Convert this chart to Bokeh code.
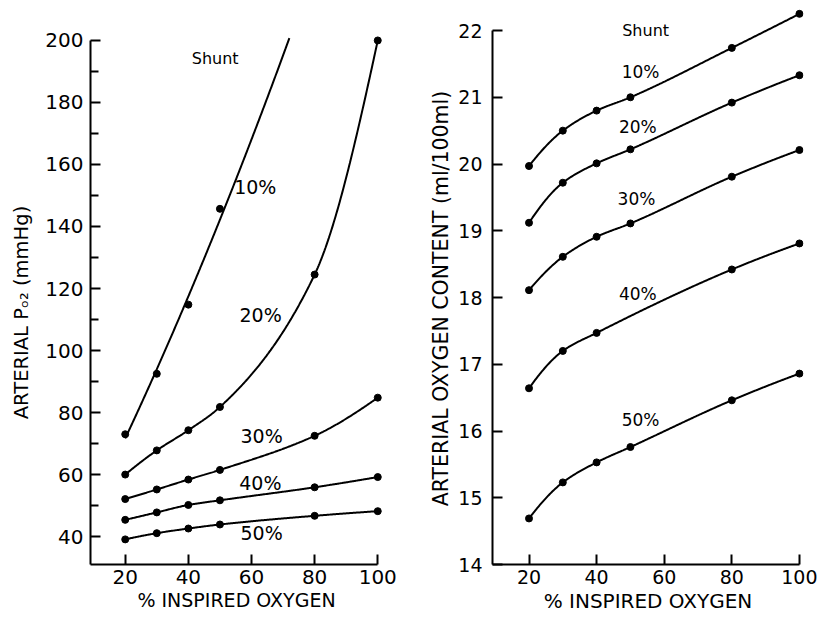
import numpy as np
from bokeh.plotting import figure
from bokeh.layouts import row
from bokeh.models import FixedTicker, Range1d
from bokeh.core.properties import value
from bokeh.embed import file_html
from bokeh.resources import INLINE

# ---------------- data ----------------
inspired_o2 = [20, 30, 40, 50, 80, 100]
shunt_labels = ["10%", "20%", "30%", "40%", "50%"]

# Left panel: arterial PO2 (mmHg)
po2_10_x = [20, 30, 40, 50]
po2_10 = [73, 92.5, 114.8, 145.7]
po2_10_curve_end = (72, 200)          # where the 10% curve leaves the top of the axis
po2_20 = [60, 67.8, 74.3, 81.8, 124.5, 200]
po2_30 = [52.1, 55.2, 58.4, 61.5, 72.5, 84.8]
po2_40 = [45.4, 47.8, 50.2, 51.7, 55.9, 59.2]
po2_50 = [39.1, 41.1, 42.6, 43.9, 46.7, 48.2]

left_yticks = [40, 60, 80, 100, 120, 140, 160, 180, 200]
left_yminor = [50, 70, 90, 110, 130, 150, 170, 190]
xticks = [20, 40, 60, 80, 100]

# Right panel: arterial oxygen content (ml/100ml)
cont_10 = [19.97, 20.5, 20.8, 21.0, 21.74, 22.25]
cont_20 = [19.12, 19.72, 20.01, 20.22, 20.92, 21.33]
cont_30 = [18.11, 18.61, 18.91, 19.11, 19.81, 20.21]
cont_40_x = [20, 30, 40, 80, 100]
cont_40 = [16.64, 17.2, 17.47, 18.42, 18.81]
cont_50 = [14.69, 15.23, 15.53, 15.76, 16.46, 16.86]
right_yticks = [14, 15, 16, 17, 18, 19, 20, 21, 22]

# label anchors (data coordinates)
left_lab_x = [61.2, 62.9, 63.2, 62.8, 63.2]
left_lab_y = [152.8, 111.6, 72.5, 57.3, 41.2]
left_shunt = (48.5, 194.2)
right_lab_x = [53.0, 52.2, 51.8, 52.2, 53.0]
right_lab_y = [21.38, 20.56, 19.48, 18.05, 16.17]
right_shunt = (54.5, 22.0)

FONT = "DejaVu Sans"


def hermite(x, y, m, xs):
    n = len(x)
    h = np.diff(x)
    idx = np.clip(np.searchsorted(x, xs) - 1, 0, n - 2)
    t = (xs - x[idx]) / h[idx]
    h00 = 2 * t**3 - 3 * t**2 + 1
    h10 = t**3 - 2 * t**2 + t
    h01 = -2 * t**3 + 3 * t**2
    h11 = t**3 - t**2
    return h00 * y[idx] + h10 * h[idx] * m[idx] + h01 * y[idx + 1] + h11 * h[idx] * m[idx + 1]


def pchip(x, y, xs):
    x = np.asarray(x, float)
    y = np.asarray(y, float)
    xs = np.asarray(xs, float)
    n = len(x)
    h = np.diff(x)
    d = np.diff(y) / h
    m = np.zeros(n)
    for k in range(1, n - 1):
        if d[k - 1] * d[k] <= 0:
            m[k] = 0.0
        else:
            w1 = 2 * h[k] + h[k - 1]
            w2 = h[k] + 2 * h[k - 1]
            m[k] = (w1 + w2) / (w1 / d[k - 1] + w2 / d[k])

    def end(h0, h1, d0, d1):
        mm = ((2 * h0 + h1) * d0 - h0 * d1) / (h0 + h1)
        if np.sign(mm) != np.sign(d0):
            mm = 0.0
        elif np.sign(d0) != np.sign(d1) and abs(mm) > abs(3 * d0):
            mm = 3 * d0
        return mm

    if n > 2:
        m[0] = end(h[0], h[1], d[0], d[1])
        m[-1] = end(h[-1], h[-2], d[-1], d[-2])
    else:
        m[0] = m[-1] = d[0]
    return hermite(x, y, m, xs)


def style(p, tick_size, title_size, minor, lab_standoff):
    p.xgrid.grid_line_color = None
    p.ygrid.grid_line_color = None
    p.outline_line_color = None
    p.background_fill_color = "white"
    p.border_fill_color = "white"
    for ax in p.axis:
        ax.axis_line_width = 2
        ax.axis_line_color = "black"
        ax.major_tick_line_width = 2
        ax.major_tick_line_color = "black"
        ax.major_tick_in = 10
        ax.major_tick_out = 0
        ax.minor_tick_in = 8 if minor else 0
        ax.minor_tick_out = 0
        ax.minor_tick_line_width = 2
        ax.minor_tick_line_color = "black" if minor else None
        ax.major_label_text_font = FONT
        ax.major_label_text_font_size = tick_size
        ax.major_label_text_color = "black"
        ax.axis_label_text_font = FONT
        ax.axis_label_text_font_size = title_size
        ax.axis_label_text_font_style = "normal"
        ax.axis_label_text_color = "black"
    p.xaxis.major_label_standoff = 5
    p.xaxis.axis_label_standoff = 2
    p.yaxis.major_label_standoff = lab_standoff


def curve(p, xs, ys, extra=None, smooth=False):
    cx = list(xs)
    cy = list(ys)
    if extra is not None:
        cx.append(extra[0])
        cy.append(extra[1])
    xx = np.linspace(cx[0], cx[-1], 300)
    yy = np.polyval(np.polyfit(cx, cy, 2), xx) if smooth else pchip(cx, cy, xx)
    p.line(xx, yy, line_color="black", line_width=2)
    p.scatter(xs, ys, size=7, color="black")


H = 617
TOP = 8
BOTTOM = 53


def title_strip(width, text, size, cx, cy):
    # narrow figure holding a rotated y-axis title; its ranges are in page pixels
    f = figure(width=width, height=H, output_backend="svg", toolbar_location=None,
               x_axis_type=None, y_axis_type=None,
               x_range=Range1d(0, width), y_range=Range1d(H - BOTTOM, TOP),
               min_border_left=0, min_border_right=0, min_border_top=TOP, min_border_bottom=BOTTOM)
    f.outline_line_color = None
    f.background_fill_color = "white"
    f.border_fill_color = "white"
    f.text(x=[cx], y=[cy], text=[text], angle=np.pi / 2, text_align="center",
           text_baseline="middle", text_font=value(FONT), text_font_size=size, text_color="black")
    return f


# ---------------- left figure ----------------
LT = 40
left_title = title_strip(LT, "ARTERIAL P\u2092\u2082 (mmHg)", "19.5px", 21, 312)

left = figure(width=365, height=H, output_backend="svg", toolbar_location=None,
              x_range=Range1d(9, 101.5), y_range=Range1d(31, 210.3),
              min_border_left=50, min_border_right=23, min_border_top=TOP, min_border_bottom=BOTTOM)
left.xaxis.ticker = FixedTicker(ticks=xticks)
left.yaxis.ticker = FixedTicker(ticks=left_yticks, minor_ticks=left_yminor)
left.xaxis.bounds = (9, 100)
left.yaxis.bounds = (31, 200)
left.xaxis.axis_label = "% INSPIRED OXYGEN"
style(left, "20px", "19px", True, 7)

curve(left, po2_10_x, po2_10, po2_10_curve_end, smooth=True)
for ys in [po2_20, po2_30, po2_40, po2_50]:
    curve(left, inspired_o2, ys)

left.text(x=left_lab_x, y=left_lab_y, text=shunt_labels, text_font=value(FONT),
          text_font_size="19px", text_align="center", text_baseline="middle", text_color="black")
left.text(x=[left_shunt[0]], y=[left_shunt[1]], text=["Shunt"], text_font=value(FONT),
          text_font_size="16px", text_align="center", text_baseline="middle", text_color="black")

# ---------------- right figure ----------------
RT = 50
right_title = title_strip(RT, "ARTERIAL OXYGEN CONTENT (ml/100ml)", "20.5px", 35, 298)

right = figure(width=362, height=H, output_backend="svg", toolbar_location=None,
               x_range=Range1d(9.2, 101.2), y_range=Range1d(14, 22.33),
               min_border_left=37, min_border_right=14, min_border_top=TOP, min_border_bottom=BOTTOM)
right.xaxis.ticker = FixedTicker(ticks=xticks)
right.yaxis.ticker = FixedTicker(ticks=right_yticks)
right.xaxis.bounds = (9.2, 100)
right.yaxis.bounds = (14, 22)
right.xaxis.axis_label = "% INSPIRED OXYGEN"
style(right, "19px", "20px", False, 10)

for ys in [cont_10, cont_20, cont_30]:
    curve(right, inspired_o2, ys)
curve(right, cont_40_x, cont_40)
curve(right, inspired_o2, cont_50)

right.text(x=right_lab_x, y=right_lab_y, text=shunt_labels, text_font=value(FONT),
           text_font_size="17px", text_align="center", text_baseline="middle", text_color="black")
right.text(x=[right_shunt[0]], y=[right_shunt[1]], text=["Shunt"], text_font=value(FONT),
           text_font_size="16px", text_align="center", text_baseline="middle", text_color="black")

layout = row(left_title, left, right_title, right, spacing=0)
open("out.html", "w").write(file_html(layout, INLINE))
